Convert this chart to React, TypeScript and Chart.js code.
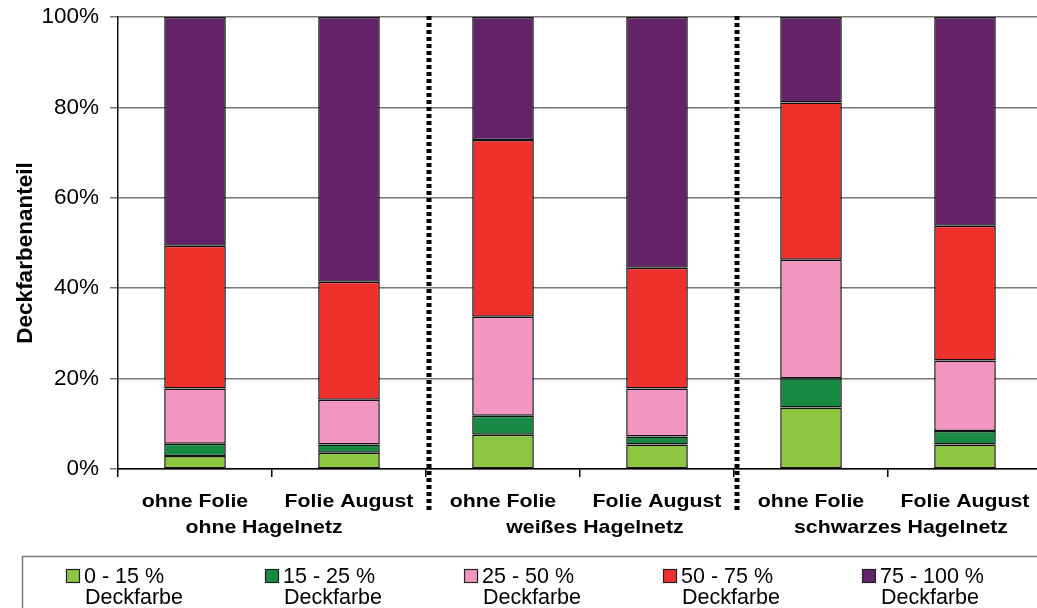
import React, { useEffect, useRef } from "react";
import { Chart, registerables } from "chart.js";

Chart.register(...registerables);

// Treatments (first label row) and the net variants they belong to (second row)
const treatments = [
  "ohne Folie",
  "Folie August",
  "ohne Folie",
  "Folie August",
  "ohne Folie",
  "Folie August",
];
const netGroups = ["ohne Hagelnetz", "weißes Hagelnetz", "schwarzes Hagelnetz"];

// Share of fruit per cover-colour class, in percent
const band0to15 = [2.9, 3.6, 7.6, 5.4, 13.6, 5.4];
const band15to25 = [2.7, 1.8, 4.2, 1.8, 6.5, 3.0];
const band25to50 = [12.2, 9.9, 21.9, 10.6, 26.2, 15.6];
const band50to75 = [31.6, 26.1, 39.1, 26.7, 34.8, 29.8];
const band75to100 = [50.6, 58.6, 27.2, 55.5, 18.9, 46.2];

const bandNames = ["0 - 15 %", "15 - 25 %", "25 - 50 %", "50 - 75 %", "75 - 100 %"];
const bandSuffix = "Deckfarbe";
const bandColors = ["#8dc641", "#188a43", "#f395c1", "#ee312d", "#642369"];

const yTicks = [0, 20, 40, 60, 80, 100];
const yTitle = "Deckfarbenanteil";

const FONT = "'Liberation Sans', Arial, sans-serif";

function scaledText(
  ctx: CanvasRenderingContext2D,
  text: string,
  x: number,
  y: number,
  sx: number
) {
  ctx.save();
  ctx.translate(x, y);
  ctx.scale(sx, 1);
  ctx.fillText(text, 0, 0);
  ctx.restore();
}

const decorations = {
  id: "decorations",
  afterDraw(chart: any) {
    const ctx: CanvasRenderingContext2D = chart.ctx;
    const area = chart.chartArea;
    const xs = chart.scales.x;
    ctx.save();
    ctx.fillStyle = "#000";

    // treatment labels
    ctx.font = `bold 18.5px ${FONT}`;
    ctx.textAlign = "center";
    ctx.textBaseline = "alphabetic";
    treatments.forEach((t, i) => {
      scaledText(ctx, t, xs.getPixelForValue(i), area.bottom + 38, 1.15);
    });

    // net group labels, centred under each pair
    const nudge = [-8, 15, 13];
    netGroups.forEach((g, k) => {
      const cx =
        (xs.getPixelForValue(2 * k) + xs.getPixelForValue(2 * k + 1)) / 2 + nudge[k];
      scaledText(ctx, g, cx, area.bottom + 64, 1.15);
    });

    // dotted separators between the groups
    ctx.strokeStyle = "#000";
    ctx.lineWidth = 5;
    ctx.setLineDash([4, 3]);
    [1, 3].forEach((i) => {
      const x = (xs.getPixelForValue(i) + xs.getPixelForValue(i + 1)) / 2 + 3;
      ctx.beginPath();
      ctx.moveTo(x, area.top - 1);
      ctx.lineTo(x, area.bottom + 41);
      ctx.stroke();
    });
    ctx.setLineDash([]);

    // y-axis title
    ctx.save();
    ctx.translate(32, (area.top + area.bottom) / 2 + 10);
    ctx.rotate(-Math.PI / 2);
    ctx.font = `bold 22.5px ${FONT}`;
    ctx.textAlign = "center";
    ctx.fillText(yTitle, 0, 0);
    ctx.restore();

    // legend box
    const boxTop = area.bottom + 87;
    ctx.strokeStyle = "#7a7a7a";
    ctx.lineWidth = 1.5;
    ctx.strokeRect(22.5, boxTop + 0.5, 1100, 120);

    ctx.font = `21.5px ${FONT}`;
    ctx.textAlign = "left";
    chart.data.datasets.forEach((ds: any, i: number) => {
      const mx = 66 + i * 199;
      const my = boxTop + 13;
      ctx.fillStyle = ds.backgroundColor;
      ctx.fillRect(mx, my, 13, 13);
      ctx.strokeStyle = "#222";
      ctx.lineWidth = 1.2;
      ctx.strokeRect(mx + 0.5, my + 0.5, 13, 13);
      ctx.fillStyle = "#000";
      ctx.fillText(bandNames[i], mx + 18, my + 14);
      ctx.fillText(bandSuffix, mx + 19, my + 35);
    });

    ctx.restore();
  },
};

export default function App() {
  const canvasRef = useRef<HTMLCanvasElement | null>(null);

  useEffect(() => {
    document.documentElement.style.overflow = "hidden";
    document.body.style.overflow = "hidden";
    const canvas = canvasRef.current;
    if (!canvas) return;
    const series = [band0to15, band15to25, band25to50, band50to75, band75to100];
    const chart = new Chart(canvas, {
      type: "bar",
      data: {
        labels: treatments,
        datasets: series.map((values, i) => ({
          label: `${bandNames[i]} ${bandSuffix}`,
          data: values,
          backgroundColor: bandColors[i],
          borderColor: "#111",
          borderWidth: 1.5,
          borderSkipped: false,
          barPercentage: 0.4,
          categoryPercentage: 1,
        })),
      },
      options: {
        responsive: true,
        maintainAspectRatio: false,
        animation: false,
        layout: { padding: { top: 17, right: 8, left: 0, bottom: 0 } },
        plugins: {
          legend: { display: false },
          tooltip: { enabled: false },
          title: { display: false },
        },
        scales: {
          x: {
            stacked: true,
            offset: true,
            grid: {
              offset: true,
              drawOnChartArea: false,
              drawTicks: true,
              tickLength: 8,
              color: "#000",
              lineWidth: 1.5,
            },
            border: { display: true, color: "#000", width: 1.5 },
            ticks: { display: false },
            afterFit: (scale: any) => {
              scale.height = 139;
              scale.paddingLeft = 0;
              scale.paddingRight = 0;
            },
          },
          y: {
            stacked: true,
            min: 0,
            max: 100,
            afterBuildTicks: (scale: any) => {
              scale.ticks = yTicks.map((v) => ({ value: v }));
            },
            grid: {
              color: "#777777",
              lineWidth: 1.5,
              tickLength: 8,
              tickColor: "#777777",
            },
            border: { display: true, color: "#111", width: 1.5 },
            ticks: {
              padding: 11,
              color: "#000",
              font: { family: FONT, size: 22.5 },
              callback: (v: any) => `${v}%`,
            },
            afterFit: (scale: any) => {
              scale.width = 118;
              scale.paddingTop = 0;
              scale.paddingBottom = 0;
            },
          },
        },
      },
      plugins: [decorations],
    });
    return () => chart.destroy();
  }, []);

  return (
    <div
      style={{
        position: "fixed",
        left: 0,
        top: 0,
        width: 1050,
        height: 608,
        background: "#fff",
      }}
    >
      <canvas ref={canvasRef} />
    </div>
  );
}
